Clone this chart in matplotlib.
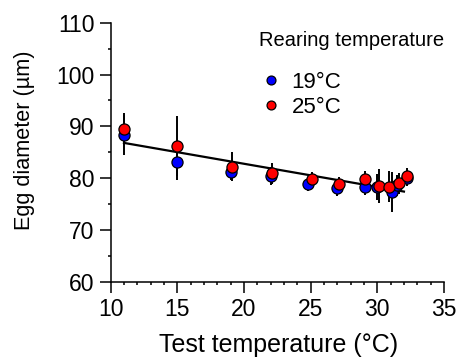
import matplotlib
matplotlib.use("Agg")
import matplotlib.pyplot as plt
from matplotlib.ticker import MultipleLocator

plt.rcParams['font.family'] = ['Liberation Sans', 'DejaVu Sans']

# Data
temp_19 = [11.0, 15.0, 19.0, 22.0, 24.8, 27.0, 29.1, 30.0, 31.1, 31.5, 32.2]
egg_19 = [88.3, 83.2, 81.2, 80.4, 78.8, 78.0, 78.3, 78.2, 77.3, 78.6, 80.0]
err_19 = [3.8, 3.5, 1.5, 1.8, 1.2, 1.5, 1.5, 2.5, 3.8, 2.0, 1.5]

temp_25 = [11.0, 15.0, 19.1, 22.1, 25.1, 27.1, 29.1, 30.1, 30.9, 31.6, 32.2]
egg_25 = [89.5, 86.2, 82.2, 80.9, 79.9, 78.8, 79.8, 78.5, 78.3, 79.0, 80.4]
err_25 = [3.0, 5.8, 2.8, 2.1, 1.2, 1.5, 1.5, 3.3, 3.0, 2.0, 1.5]

fit_x = [11.0, 32.0]
fit_y = [86.8, 77.4]

x_ticks = [10, 15, 20, 25, 30, 35]
y_ticks = [60, 70, 80, 90, 100, 110]

fig = plt.figure(figsize=(4.61, 3.62), dpi=100)
ax = fig.add_axes([0.240, 0.222, 0.723, 0.715])

ax.errorbar(temp_19, egg_19, yerr=err_19, fmt='none', ecolor='black',
            elinewidth=1.4, capsize=0, zorder=1)
ax.errorbar(temp_25, egg_25, yerr=err_25, fmt='none', ecolor='black',
            elinewidth=1.4, capsize=0, zorder=1)
ax.plot(fit_x, fit_y, color='black', lw=1.6, zorder=2)
ax.plot(temp_19, egg_19, 'o', color='#0000ff', mec='black', mew=0.9, ms=8,
        label='19°C', zorder=3)
ax.plot(temp_25, egg_25, 'o', color='#ff0000', mec='black', mew=0.9, ms=8,
        label='25°C', zorder=4)

ax.set_xlim(10, 35)
ax.set_ylim(60, 110)
ax.set_xticks(x_ticks)
ax.set_yticks(y_ticks)
ax.xaxis.set_minor_locator(MultipleLocator(1))
ax.yaxis.set_minor_locator(MultipleLocator(5))
ax.tick_params(which='major', length=8, width=1.1, labelsize=16.5, pad=3.5)
ax.tick_params(which='minor', length=2.5, width=1.1)
for s in ['top', 'right']:
    ax.spines[s].set_visible(False)
for s in ['left', 'bottom']:
    ax.spines[s].set_linewidth(1.1)

ax.set_xlabel('Test temperature (°C)', fontsize=18)
ax.set_ylabel('Egg diameter (µm)', fontsize=15.6)
ax.xaxis.set_label_coords(0.503, -0.198)
ax.yaxis.set_label_coords(-0.226, 0.547)

fig.text(259.3 / 461, 1 - 41 / 362, 'Rearing temperature', ha='left',
         va='center', fontsize=14.5)
leg = ax.legend(loc='upper left', bbox_to_anchor=(259.3 / 461, 1 - 72 / 362),
                bbox_transform=fig.transFigure, frameon=False,
                fontsize=16, handlelength=1.03, markerscale=0.8,
                handletextpad=0.43, labelspacing=0.19, borderpad=0,
                borderaxespad=0)

fig.savefig('out.png', dpi=100)
